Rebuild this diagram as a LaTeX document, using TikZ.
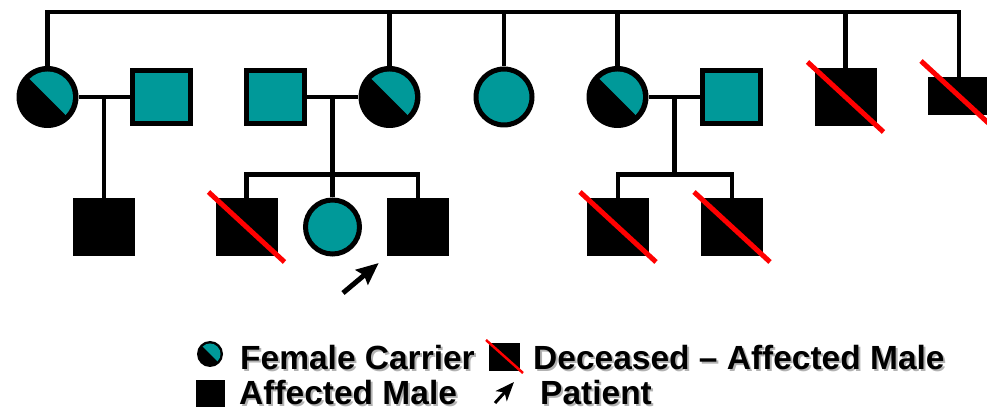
\documentclass[tikz,border=0pt]{standalone}
\usepackage{fontspec}
\setmainfont{Liberation Sans}
\usepackage{tikz}
\usetikzlibrary{calc,positioning,arrows.meta}
\definecolor{pedteal}{HTML}{009999}
\definecolor{pedred}{HTML}{FF0000}
\tikzset{
  pedline/.style={draw=black, line width=4.5pt},
  malebox/.style={rectangle, draw=black, line width=5pt, fill=pedteal,
    minimum width=58pt, minimum height=53pt, inner sep=0pt},
  affected/.style={rectangle, fill=black, minimum width=62pt,
    minimum height=58pt, inner sep=0pt},
  femalebox/.style={circle, draw=black, line width=5pt, fill=pedteal,
    minimum size=56pt, inner sep=0pt},
  crossline/.style={draw=pedred, line width=5pt},
  patientarrow/.style={line width=5pt, -{Stealth[length=22pt,width=19pt,inset=3pt]}},
  legendtext/.style={anchor=base west, inner sep=0pt,
    font=\fontsize{33.5}{36}\selectfont\bfseries}
}
% half filled circle for a female carrier
\newcommand{\carrier}[4]{
    \node[circle, fill=black, minimum size=2*#3, inner sep=0pt] (#2) at (#1) {};
    \pgfmathsetmacro{\ri}{#3-#4} % radius of the teal part
    \fill[pedteal] (#2.center) ++(135:\ri) arc[start angle=135, end angle=-45, radius=\ri] -- cycle;
}
% red stroke for a deceased person
\newcommand{\strike}[1]{
    \draw[crossline] ($(#1.center)+(-38,35)$) -- ($(#1.center)+(38,-35)$);
}
% text with a soft shadow
\newcommand{\shadowed}[1]{\makebox[0pt][l]{\hspace{2pt}\raisebox{-2pt}{\color{black!30}#1}}#1}

\begin{document}
\begin{tikzpicture}[x=1pt,y=1pt]
    \useasboundingbox (0,0) rectangle (987,409);
    \pgfmathsetmacro{\rowA}{312}
    \pgfmathsetmacro{\rowB}{182}
    \pgfmathsetmacro{\topY}{397}
    \pgfmathsetmacro{\sibY}{234.5}
    \path (0,\topY) coordinate (topA) (0,\sibY) coordinate (sibA);

    % Generation I
    \carrier{47.5,\rowA}{carrier1}{31}{5.5}
    \node[malebox] (husband1) at (161.5,\rowA) {};
    \node[malebox] (husband2) at (275,\rowA) {};
    \carrier{389.5,\rowA}{carrier2}{31}{5.5}
    \node[femalebox] (aunt1) at (504,\rowA) {};
    \carrier{617.5,\rowA}{carrier3}{31}{5.5}
    \node[malebox] (husband3) at (731.5,\rowA) {};
    \node[affected] (uncle1) at (845.5,\rowA) {};
    \node[affected, minimum height=38pt] (uncle2) at (959,313) {};

    % Sibship line on top
    \draw[pedline] (carrier1.north) |- (topA -| uncle2.north) -- (uncle2.north);
    \foreach \n in {carrier2,aunt1,carrier3,uncle1}
        \draw[pedline] (\n.north) -- (\n.north |- topA);

    % Generation II
    \node[affected] (son1) at (104,\rowB) {};
    \node[affected] (son2) at (246.5,\rowB) {};
    \node[femalebox, minimum size=54pt] (daughter1) at (332.5,\rowB) {};
    \node[affected] (patient) at (418,\rowB) {};
    \node[affected] (son3) at (618,\rowB) {};
    \node[affected] (son4) at (732,\rowB) {};

    % Family 1
    \draw[pedline] (carrier1) -- (husband1);
    \draw[pedline] (son1.north) -- (son1.north |- carrier1.east);

    % Family 2
    \draw[pedline] (husband2) -- (carrier2);
    \draw[pedline] (daughter1.north) -- (daughter1.north |- husband2.east);
    \draw[pedline] (son2.north) |- (sibA -| patient.north) -- (patient.north);

    % Family 3
    \draw[pedline] (carrier3) -- (husband3);
    \coordinate (union3) at ($(carrier3.east)!0.5!(husband3.west)$);
    \draw[pedline] (union3) -- (union3 |- sibA);
    \draw[pedline] (son3.north) |- (sibA -| son4.north) -- (son4.north);

    % Deceased
    \foreach \n in {uncle1,uncle2,son2,son3,son4}{
        \strike{\n}
    }

    % Patient arrow
    \coordinate (ptail) at (343,116);
    \draw[patientarrow, shorten >=10.6pt] (ptail) -- (patient.south west);

    % Legend
    \carrier{210,55}{legcarrier}{13}{2.5}
    \node[legendtext] (legcarriertext) at (240,39.5) {\shadowed{Female Carrier}};
    \node[affected, minimum width=31pt, minimum height=28pt] (legdeceased) at (504.5,52) {};
    \draw[crossline, line width=2.5pt] ($(legdeceased.center)+(-18.5,17)$) -- ($(legdeceased.center)+(18.5,-16)$);
    \node[legendtext] (legdeceasedtext) at (533,39.5) {\shadowed{Deceased – Affected Male}};
    \node[affected, minimum width=29pt, minimum height=27pt] (legaffected) at (210.5,15.5) {};
    \node[legendtext] (legaffectedtext) at (239,4) {\shadowed{Affected Male}};
    \coordinate (legtail) at (495,6);
    \coordinate (legtip) at (514,27);
    \draw[line width=3pt, -{Stealth[length=19pt,width=15pt,inset=5pt]}] (legtail) -- (legtip);
    \node[legendtext] (legpatienttext) at (540,4) {\shadowed{Patient}};
\end{tikzpicture}
\end{document}
